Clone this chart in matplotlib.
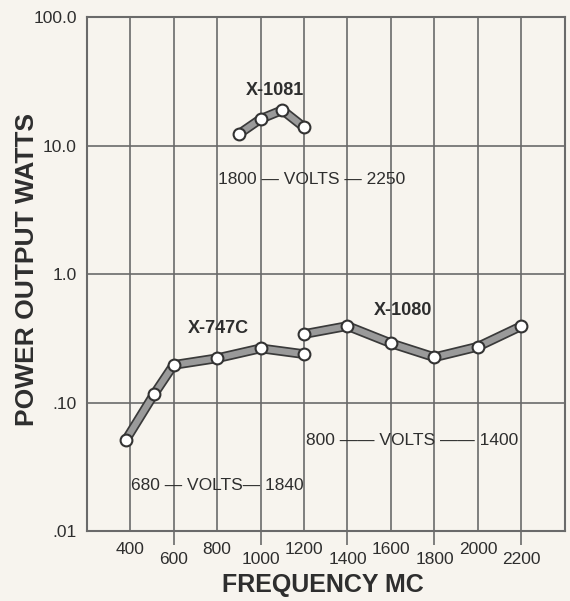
import matplotlib
matplotlib.use("Agg")
import matplotlib.pyplot as plt
import matplotlib.patheffects as pe

# frequency (MC) and power output (watts)
x747 = [380, 510, 600, 800, 1000, 1200]
p747 = [0.051, 0.116, 0.196, 0.221, 0.264, 0.238]

x1080 = [1200, 1400, 1600, 1800, 2000, 2200]
p1080 = [0.341, 0.394, 0.289, 0.225, 0.272, 0.394]

x1081 = [900, 1000, 1100, 1200]
p1081 = [12.3, 16.1, 18.9, 13.9]

upper_ticks = [400, 800, 1200, 1600, 2000]
lower_ticks = [600, 1000, 1400, 1800, 2200]
y_ticks = [0.01, 0.1, 1.0, 10.0, 100.0]
y_labels = [".01", ".10", "1.0", "10.0", "100.0"]

ink = "#2e2e2e"
paper = "#f7f4ee"
grid = "#6a6a6a"

plt.rcParams["font.family"] = ["Liberation Sans", "DejaVu Sans"]

fig = plt.figure(figsize=(5.7, 6.01), dpi=100, facecolor=paper)
ax = fig.add_axes([0.152, 0.1165, 0.839, 0.855], facecolor=paper)

ax.set_yscale("log")
ax.set_xlim(200, 2400)
ax.set_ylim(0.01, 100)

ax.set_yticks(y_ticks, labels=y_labels)
ax.minorticks_off()
ax.tick_params(axis="y", length=0, pad=7, labelsize=12.5, labelcolor=ink)

ax.set_xticks(upper_ticks, labels=[str(t) for t in upper_ticks])
ax.set_xticks(lower_ticks, labels=[str(t) for t in lower_ticks], minor=True)
ax.tick_params(axis="x", which="major", length=0, pad=8, labelsize=12.5, labelcolor=ink)
ax.tick_params(axis="x", which="minor", length=10, width=1.2, color=grid,
               pad=5, labelsize=12.5, labelcolor=ink)

ax.grid(True, which="major", color=grid, lw=1.2)
ax.grid(True, which="minor", axis="x", color=grid, lw=1.2)
ax.set_axisbelow(True)
for s in ax.spines.values():
    s.set_color(grid)
    s.set_linewidth(1.5)

stroke = [pe.Stroke(linewidth=7, foreground="#3a3a3a"), pe.Normal()]
for xs, ps in [(x747, p747), (x1080, p1080), (x1081, p1081)]:
    ax.plot(xs, ps, color="#9a9a9a", lw=4.5, solid_capstyle="round",
            path_effects=stroke, zorder=3)
    ax.plot(xs, ps, "o", ms=8.5, mfc="white", mec="#333333", mew=1.5, zorder=4)

ax.text(1066, 27, "X-1081", ha="center", va="center", fontsize=13,
        fontweight="bold", color=ink)
ax.text(1236, 5.4, "1800 \u2014 VOLTS \u2014 2250", ha="center", va="center",
        fontsize=12.5, color=ink)
ax.text(804, 0.38, "X-747C", ha="center", va="center", fontsize=13,
        fontweight="bold", color=ink)
ax.text(1655, 0.525, "X-1080", ha="center", va="center", fontsize=13,
        fontweight="bold", color=ink)
ax.text(1696, 0.051, "800 \u2014\u2014 VOLTS \u2014\u2014 1400", ha="center",
        va="center", fontsize=12.5, color=ink)
ax.text(799, 0.0228, "680 \u2014 VOLTS\u2014 1840", ha="center", va="center",
        fontsize=12.5, color=ink)

fig.text(27 / 570, 1 - 270 / 601, "POWER OUTPUT WATTS", rotation=90,
         ha="center", va="center", fontsize=19, fontweight="bold", color=ink)
fig.text(323 / 570, 1 - 585 / 601, "FREQUENCY MC", ha="center", va="center",
         fontsize=18, fontweight="bold", color=ink)

fig.savefig("out.png", dpi=100, facecolor=paper)
